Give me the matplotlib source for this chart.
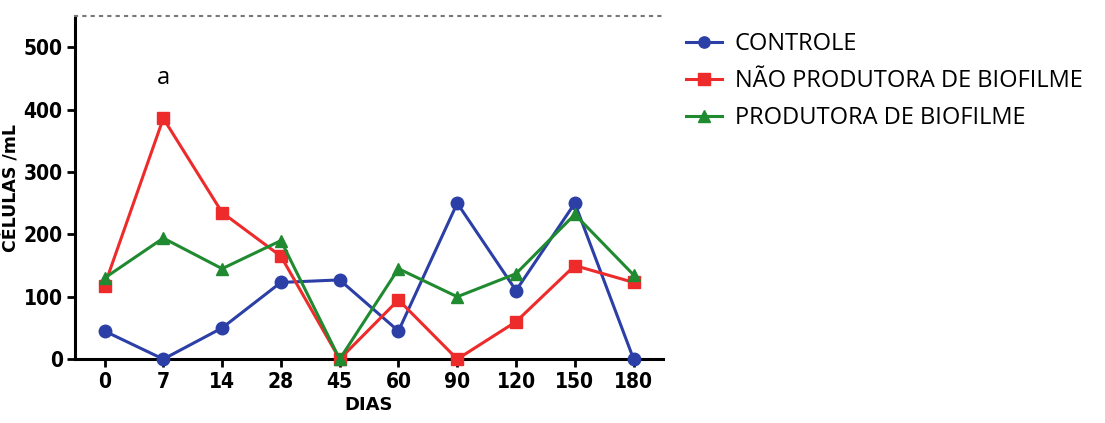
import numpy as np
import matplotlib.pyplot as plt

dias = ["0", "7", "14", "28", "45", "60", "90", "120", "150", "180"]
controle = [45, 0, 50, 123, 127, 45, 250, 110, 250, 0]
nao_produtora = [118, 386, 235, 165, 0, 95, 0, 60, 150, 123]
produtora = [130, 194, 145, 190, 0, 145, 100, 137, 232, 135]

fig = plt.figure(figsize=(11.05, 4.23), dpi=100)
ax = fig.add_axes([0.068, 0.151, 0.532, 0.811])

x = np.arange(len(dias))
l1, = ax.plot(x, controle, color="#2b3fa6", marker="o", ms=9, lw=2.2,
              label="CONTROLE", clip_on=False, zorder=3)
l2, = ax.plot(x, nao_produtora, color="#ee2b2b", marker="s", ms=9, lw=2.2,
              label="NÃO PRODUTORA DE BIOFILME", clip_on=False, zorder=3)
l3, = ax.plot(x, produtora, color="#1f8a30", marker="^", ms=9, lw=2.2,
              label="PRODUTORA DE BIOFILME", clip_on=False, zorder=3)

ax.set_xlim(-0.5, 9.5)
ax.set_ylim(0, 550)
ax.set_xticks(x)
ax.set_xticklabels(dias)
ax.set_yticks([0, 100, 200, 300, 400, 500])

for s in ["left", "bottom"]:
    ax.spines[s].set_linewidth(2.2)
ax.spines["right"].set_visible(False)
ax.spines["top"].set_linestyle((0, (1, 3)))
ax.spines["top"].set_color("#777777")
ax.spines["top"].set_linewidth(1.5)

ax.tick_params(axis="both", length=6, width=2, direction="out", pad=3)
for lab in ax.get_xticklabels() + ax.get_yticklabels():
    lab.set_family("DejaVu Sans")
    lab.set_fontstretch("condensed")
    lab.set_fontweight("bold")
    lab.set_fontsize(15)

ax.set_xlabel("DIAS", fontsize=13, fontweight="bold", labelpad=3)
ax.set_ylabel("CÉLULAS /mL", fontsize=12.5, fontweight="bold", labelpad=2)

ax.text(1, 450, "a", fontsize=17, ha="center", va="center", family="Open Sans")

fig.legend(handles=[l1, l2, l3], loc="upper left",
           bbox_to_anchor=(0.602, 0.975), frameon=False,
           prop={"family": "Open Sans", "size": 17},
           handlelength=1.5, handletextpad=0.55, labelspacing=0.55,
           markerscale=0.9)

fig.savefig("out.png", dpi=100)
